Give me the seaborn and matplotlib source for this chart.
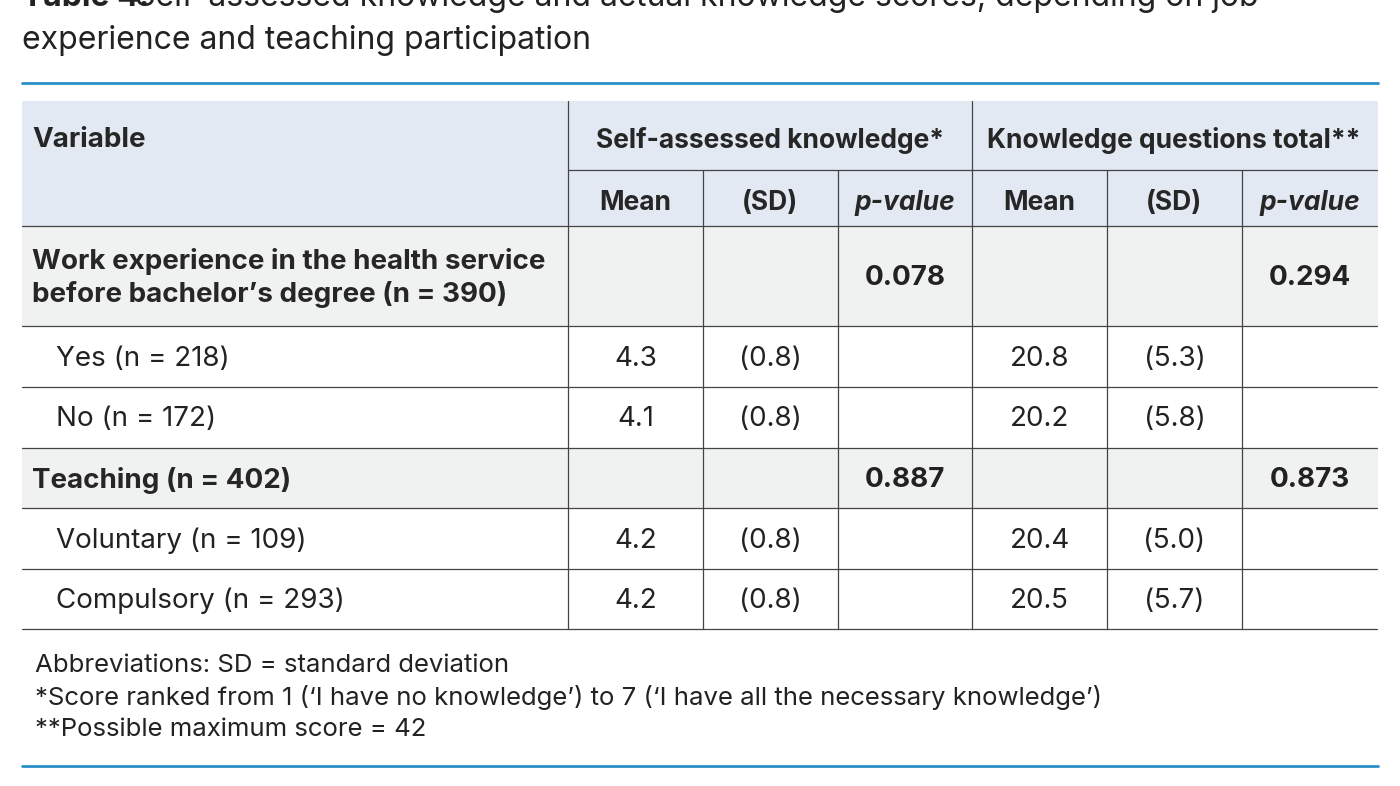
import matplotlib
matplotlib.use("Agg")
import matplotlib.pyplot as plt
import seaborn as sns

sns.set_style("white")
plt.rcParams["font.family"] = "Inter"

# data
row_labels = ["Work experience in the health service\nbefore bachelor\u2019s degree (n = 390)",
              "Yes (n = 218)", "No (n = 172)", "Teaching (n = 402)",
              "Voluntary (n = 109)", "Compulsory (n = 293)"]
is_group = [True, False, False, True, False, False]
self_mean = ["", "4.3", "4.1", "", "4.2", "4.2"]
self_sd = ["", "(0.8)", "(0.8)", "", "(0.8)", "(0.8)"]
self_p = ["0.078", "", "", "0.887", "", ""]
know_mean = ["", "20.8", "20.2", "", "20.4", "20.5"]
know_sd = ["", "(5.3)", "(5.8)", "", "(5.0)", "(5.7)"]
know_p = ["0.294", "", "", "0.873", "", ""]
sub_headers = ["Mean", "(SD)", "p-value", "Mean", "(SD)", "p-value"]
footnotes = ["Abbreviations: SD = standard deviation",
             "*Score ranked from 1 (\u2018I have no knowledge\u2019) to 7 (\u2018I have all the necessary knowledge\u2019)",
             "**Possible maximum score = 42"]

fig = plt.figure(figsize=(14, 7.86), dpi=100)
ax = fig.add_axes([0, 0, 1, 1])
ax.set_xlim(0, 1400)
ax.set_ylim(786, 0)
ax.axis("off")

BLUE = "#2a8fc7"
HEAD = "#e2e9f3"
GREY = "#f0f1f1"
LINE = "#444444"
cols = [22, 568, 703, 838, 972, 1107, 1242, 1377]
rows = [226, 326, 387, 448, 508, 569, 629]

ax.text(22, -3, "Table 4.", fontsize=23, va="center", fontweight="bold", color="#222222")
ax.text(135, -3, "Self-assessed knowledge and actual knowledge scores, depending on job",
        fontsize=23, va="center", color="#222222")
ax.text(22, 40, "experience and teaching participation", fontsize=23, va="center", color="#222222")
ax.plot([22, 1378], [83, 83], color=BLUE, lw=2)

ax.add_patch(plt.Rectangle((22, 101), 1356, 125, color=HEAD, lw=0))
for i, g in enumerate(is_group):
    if g:
        ax.add_patch(plt.Rectangle((22, rows[i]), 1356, rows[i + 1] - rows[i], color=GREY, lw=0))

ax.plot([568, 1377], [170, 170], color=LINE, lw=0.9)
for y in rows:
    ax.plot([22, 1377], [y, y], color=LINE, lw=0.9)
for x in cols[1:-1]:
    ymin = 101 if x in (568, 972) else 170
    ax.plot([x, x], [ymin, 629], color=LINE, lw=0.9)

ax.text(32, 140, "Variable", fontsize=20, fontweight="bold", va="center")
ax.text(770, 140, "Self-assessed knowledge*", fontsize=19, fontweight="bold", va="center", ha="center")
ax.text(1174, 140, "Knowledge questions total**", fontsize=19, fontweight="bold", va="center", ha="center")
for j, h in enumerate(sub_headers):
    cx = (cols[j + 1] + cols[j + 2]) / 2
    ax.text(cx, 203, h, fontsize=19, fontweight="bold", va="center", ha="center",
            style="italic" if "p-value" in h else "normal")

for i, lab in enumerate(row_labels):
    cy = (rows[i] + rows[i + 1]) / 2 + 2
    if is_group[i]:
        ax.text(32, cy, lab, fontsize=20, fontweight="bold", va="center", linespacing=1.3)
    else:
        ax.text(56, cy, lab, fontsize=20, va="center", color="#222222")
    vals = [self_mean[i], self_sd[i], self_p[i], know_mean[i], know_sd[i], know_p[i]]
    for j, v in enumerate(vals):
        cx = (cols[j + 1] + cols[j + 2]) / 2
        ax.text(cx, cy, v, fontsize=20, va="center", ha="center",
                fontweight="bold" if is_group[i] else "normal", color="#222222")

for k, f in enumerate(footnotes):
    ax.text(35, 665 + 32 * k, f, fontsize=18.5, va="center", color="#222222")
ax.plot([22, 1378], [766, 766], color=BLUE, lw=2)

fig.savefig("out.png", dpi=100)
